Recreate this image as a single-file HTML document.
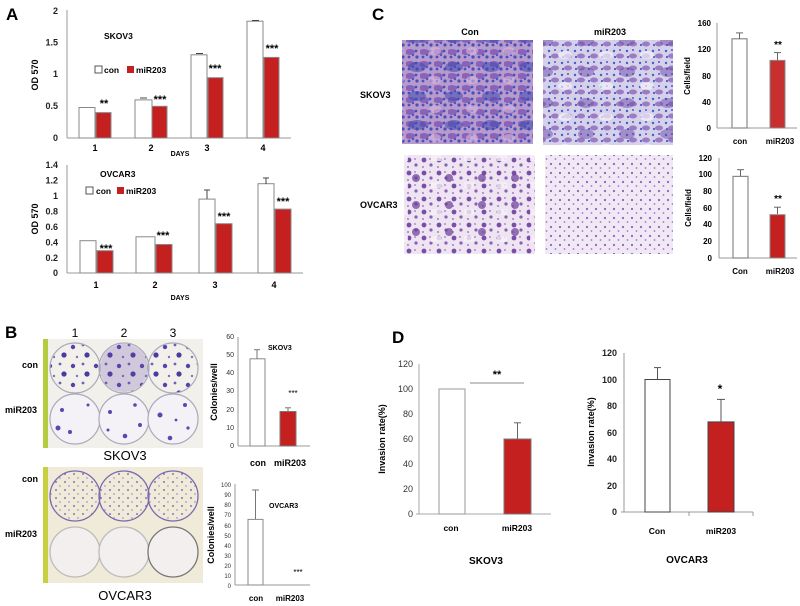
<!DOCTYPE html>
<html><head><meta charset="utf-8"><style>
html,body{margin:0;padding:0;background:#fff;}
svg{display:block;font-family:"Liberation Sans",Arial,sans-serif;}
.b{font-weight:bold;}
</style></head><body>
<svg width="800" height="606" viewBox="0 0 800 606" xmlns="http://www.w3.org/2000/svg">
<defs>
<pattern id="colA" width="23" height="19" patternUnits="userSpaceOnUse">
<circle cx="4" cy="5" r="2.2" fill="#5a3fa8"/><circle cx="14" cy="3" r="1.4" fill="#7a5ab8"/><circle cx="18" cy="13" r="2.6" fill="#4b3aa0"/><circle cx="8" cy="15" r="1.2" fill="#8a6ac0"/>
</pattern>
<pattern id="colB" width="9" height="8" patternUnits="userSpaceOnUse">
<circle cx="2" cy="2" r="0.9" fill="#6a4fb0"/><circle cx="6" cy="6" r="0.7" fill="#8a70c4"/>
</pattern>
<pattern id="skA" width="14" height="12" patternUnits="userSpaceOnUse">
<rect width="14" height="12" fill="#b89acc"/>
<ellipse cx="4" cy="4" rx="5" ry="3" fill="#8a63b8"/>
<circle cx="10" cy="3" r="1.4" fill="#3f55c0"/><circle cx="3" cy="9" r="1.4" fill="#3f55c0"/><circle cx="11" cy="9" r="1.6" fill="#4a4fb8"/><circle cx="7" cy="7" r="1.2" fill="#3f5ad0"/>
</pattern>
<pattern id="skA2" width="37" height="29" patternUnits="userSpaceOnUse">
<ellipse cx="10" cy="9" rx="9" ry="5" fill="#3f48b0" opacity="0.55"/><ellipse cx="28" cy="22" rx="6" ry="4" fill="#d8b8dc" opacity="0.6"/>
</pattern>
<pattern id="skB" width="13" height="12" patternUnits="userSpaceOnUse">
<rect width="13" height="12" fill="#d6d0ea"/>
<ellipse cx="9" cy="8" rx="4" ry="2.5" fill="#9a7cc4"/>
<circle cx="3" cy="3" r="1.2" fill="#3f60c8"/><circle cx="9" cy="2" r="1" fill="#3f60c8"/><circle cx="4" cy="9" r="1.1" fill="#3f60c8"/>
</pattern>
<pattern id="skB2" width="41" height="31" patternUnits="userSpaceOnUse">
<ellipse cx="12" cy="10" rx="8" ry="5" fill="#6a4aa8" opacity="0.5"/><ellipse cx="32" cy="24" rx="7" ry="4" fill="#f4f2fa" opacity="0.7"/>
</pattern>
<pattern id="ovA" width="15" height="13" patternUnits="userSpaceOnUse">
<rect width="15" height="13" fill="#eee4f2"/>
<circle cx="4" cy="4" r="2.4" fill="#7a4ea8"/><circle cx="11" cy="9" r="1.6" fill="#8a60b4"/><circle cx="10" cy="3" r="0.9" fill="#9a70c0"/><circle cx="3" cy="11" r="0.9" fill="#8a60b4"/>
</pattern>
<pattern id="ovA2" width="33" height="27" patternUnits="userSpaceOnUse">
<circle cx="20" cy="16" r="4" fill="#6a3e98" opacity="0.7"/><rect x="2" y="20" width="10" height="6" fill="#f6f0f8" opacity="0.8"/>
</pattern>
<pattern id="ovB" width="9" height="9" patternUnits="userSpaceOnUse">
<rect width="9" height="9" fill="#f0e8f4"/>
<circle cx="2" cy="2" r="1.1" fill="#8a64b8"/><circle cx="6.5" cy="6" r="0.9" fill="#9a78c4"/>
</pattern>
</defs>

<!-- Panel A top -->
<text x="6" y="20" font-size="17" class="b">A</text>
<g font-size="9" class="b" fill="#222" text-anchor="end">
<text x="58" y="14">2</text><text x="58" y="45.5">1.5</text><text x="58" y="77">1</text><text x="58" y="109">0.5</text><text x="58" y="141">0</text>
</g>
<line x1="67" y1="10" x2="67" y2="138" stroke="#999"/>
<line x1="67" y1="138" x2="291" y2="138" stroke="#999"/>
<g stroke="#888" stroke-width="1">
<rect x="79" y="107.5" width="16" height="30.5" fill="#fff"/><rect x="96" y="112.6" width="15" height="25.4" fill="#c42020"/>
<rect x="135" y="99.9" width="17" height="38.1" fill="#fff"/><rect x="152" y="106.3" width="15" height="31.7" fill="#c42020"/>
<rect x="191" y="54.8" width="16" height="83.2" fill="#fff"/><rect x="208" y="77.7" width="15" height="60.3" fill="#c42020"/>
<rect x="247" y="21.2" width="16" height="116.8" fill="#fff"/><rect x="264" y="57.4" width="15" height="80.6" fill="#c42020"/>
</g>
<g stroke="#444"><line x1="140" y1="98" x2="147" y2="98"/><line x1="196" y1="53.5" x2="203" y2="53.5"/><line x1="252" y1="20.5" x2="259" y2="20.5"/></g>
<g font-size="11" class="b" text-anchor="middle">
<text x="104" y="107">**</text><text x="160" y="103">***</text><text x="215" y="72">***</text><text x="272" y="52">***</text>
</g>
<g font-size="9" class="b" text-anchor="middle">
<text x="95" y="151">1</text><text x="151" y="151">2</text><text x="207" y="151">3</text><text x="263" y="151">4</text>
<text x="180" y="156" font-size="7">DAYS</text>
</g>
<text x="38" y="75" font-size="9" class="b" transform="rotate(-90 38 75)" text-anchor="middle">OD 570</text>
<text x="104" y="39" font-size="8.5" class="b">SKOV3</text>
<rect x="95" y="66" width="7" height="7" fill="#fff" stroke="#555"/><text x="104" y="73" font-size="8.5" class="b">con</text>
<rect x="127" y="66" width="7" height="7" fill="#c42020"/><text x="136" y="73" font-size="8.5" class="b">miR203</text>

<!-- Panel A bottom -->
<g font-size="9" class="b" fill="#222" text-anchor="end">
<text x="58" y="168">1.4</text><text x="58" y="183.5">1.2</text><text x="58" y="199">1</text><text x="58" y="214.5">0.8</text><text x="58" y="230">0.6</text><text x="58" y="245.5">0.4</text><text x="58" y="261">0.2</text><text x="58" y="276">0</text>
</g>
<line x1="67" y1="165" x2="67" y2="273" stroke="#999"/>
<line x1="67" y1="273" x2="303" y2="273" stroke="#999"/>
<g stroke="#888">
<rect x="80" y="240.7" width="16" height="32.3" fill="#fff"/><rect x="97" y="250.7" width="16" height="22.3" fill="#c42020"/>
<rect x="136" y="236.8" width="19" height="36.2" fill="#fff"/><rect x="156" y="244.5" width="16" height="28.5" fill="#c42020"/>
<rect x="199" y="199.1" width="16" height="73.9" fill="#fff"/><rect x="216" y="223.7" width="16" height="49.3" fill="#c42020"/>
<rect x="258" y="183.7" width="16" height="89.3" fill="#fff"/><rect x="275" y="209.1" width="16" height="63.9" fill="#c42020"/>
</g>
<g stroke="#444"><line x1="207" y1="190" x2="207" y2="199"/><line x1="204" y1="190" x2="210" y2="190"/><line x1="266" y1="178" x2="266" y2="184"/><line x1="263" y1="178" x2="269" y2="178"/></g>
<g font-size="11" class="b" text-anchor="middle">
<text x="106" y="252">***</text><text x="163" y="239">***</text><text x="224" y="220">***</text><text x="283" y="205">***</text>
</g>
<g font-size="9" class="b" text-anchor="middle">
<text x="96" y="288">1</text><text x="155" y="288">2</text><text x="215" y="288">3</text><text x="274" y="288">4</text>
<text x="180" y="300" font-size="7">DAYS</text>
</g>
<text x="38" y="219" font-size="9" class="b" transform="rotate(-90 38 219)" text-anchor="middle">OD 570</text>
<text x="100" y="177" font-size="8.5" class="b">OVCAR3</text>
<rect x="86" y="187" width="7" height="7" fill="#fff" stroke="#555"/><text x="96" y="194" font-size="8.5" class="b">con</text>
<rect x="117" y="187" width="7" height="7" fill="#c42020"/><text x="126" y="194" font-size="8.5" class="b">miR203</text>

<!-- Panel B -->
<text x="5" y="338" font-size="17" class="b">B</text>
<g font-size="12" text-anchor="middle"><text x="75" y="337">1</text><text x="124" y="337">2</text><text x="173" y="337">3</text></g>
<text x="22" y="368" font-size="9" class="b">con</text>
<text x="5" y="413" font-size="9" class="b">miR203</text>
<text x="22" y="482" font-size="9" class="b">con</text>
<text x="5" y="537" font-size="9" class="b">miR203</text>
<rect x="43" y="339" width="160" height="109" fill="#f2f0ea"/>
<rect x="43" y="339" width="5" height="109" fill="#b6cc40"/>
<g stroke="#aab" stroke-width="1.2">
<circle cx="75" cy="368" r="25" fill="url(#colA)"/><circle cx="124" cy="368" r="25" fill="url(#colA)"/><circle cx="173" cy="368" r="25" fill="url(#colA)"/>
<circle cx="75" cy="419" r="25" fill="#f4f2f6"/><circle cx="124" cy="419" r="25" fill="#f4f2f6"/><circle cx="173" cy="419" r="25" fill="#f4f2f6"/>
</g>
<circle cx="124" cy="368" r="24" fill="#6a50b0" opacity="0.25"/>
<g fill="#5a48b0">
<circle cx="62" cy="410" r="2"/><circle cx="58" cy="428" r="2.5"/><circle cx="88" cy="405" r="1.5"/><circle cx="70" cy="432" r="2"/>
<circle cx="110" cy="412" r="2"/><circle cx="135" cy="405" r="1.8"/><circle cx="125" cy="436" r="2.3"/><circle cx="140" cy="425" r="2"/><circle cx="108" cy="430" r="1.5"/>
<circle cx="160" cy="415" r="2.5"/><circle cx="185" cy="405" r="2"/><circle cx="170" cy="438" r="2.3"/><circle cx="188" cy="428" r="1.6"/><circle cx="176" cy="420" r="1.4"/>
</g>
<text x="125" y="460" font-size="13" text-anchor="middle">SKOV3</text>
<rect x="43" y="467" width="160" height="116" fill="#efebd8"/>
<rect x="43" y="467" width="5" height="116" fill="#c8d040"/>
<g stroke="#7a6ab0" stroke-width="1.3">
<circle cx="75" cy="496" r="25" fill="url(#colB)"/><circle cx="124" cy="496" r="25" fill="url(#colB)"/><circle cx="173" cy="496" r="25" fill="url(#colB)"/>
</g>
<g stroke="#bbb" stroke-width="1.3" fill="#f2efee">
<circle cx="75" cy="552" r="25"/><circle cx="124" cy="552" r="25"/><circle cx="173" cy="552" r="25" stroke="#777"/>
</g>
<text x="125" y="600" font-size="13" text-anchor="middle">OVCAR3</text>

<!-- B chart 1 -->
<g font-size="7" fill="#333" text-anchor="end">
<text x="234" y="339">60</text><text x="234" y="357">50</text><text x="234" y="375">40</text><text x="234" y="393">30</text><text x="234" y="412">20</text><text x="234" y="430">10</text><text x="234" y="448">0</text>
</g>
<line x1="238" y1="337" x2="238" y2="446" stroke="#999"/><line x1="238" y1="446" x2="310" y2="446" stroke="#999"/>
<rect x="250" y="358.8" width="15" height="87.2" fill="#fff" stroke="#888"/>
<rect x="280" y="411.5" width="16" height="34.5" fill="#c42020" stroke="#777"/>
<g stroke="#777"><line x1="257" y1="349.7" x2="257" y2="359"/><line x1="254" y1="349.7" x2="260" y2="349.7"/><line x1="288" y1="407.8" x2="288" y2="411"/><line x1="285" y1="407.8" x2="291" y2="407.8"/></g>
<text x="293" y="396" font-size="8" text-anchor="middle">***</text>
<text x="268" y="350" font-size="7" class="b">SKOV3</text>
<text x="217" y="392" font-size="9" class="b" transform="rotate(-90 217 392)" text-anchor="middle">Colonies/well</text>
<text x="258" y="466" font-size="9" class="b" text-anchor="middle">con</text><text x="290" y="466" font-size="9" class="b" text-anchor="middle">miR203</text>

<!-- B chart 2 -->
<g font-size="6" fill="#333" text-anchor="end">
<text x="231" y="487">100</text><text x="231" y="497">90</text><text x="231" y="507">80</text><text x="231" y="517">70</text><text x="231" y="528">60</text><text x="231" y="538">50</text><text x="231" y="548">40</text><text x="231" y="558">30</text><text x="231" y="568">20</text><text x="231" y="578">10</text><text x="231" y="588">0</text>
</g>
<line x1="235" y1="484" x2="235" y2="585" stroke="#999"/><line x1="235" y1="585" x2="310" y2="585" stroke="#999"/>
<rect x="248" y="519.4" width="15" height="65.6" fill="#fff" stroke="#888"/>
<g stroke="#777"><line x1="255.5" y1="490" x2="255.5" y2="519"/><line x1="252" y1="490" x2="259" y2="490"/></g>
<text x="298" y="575" font-size="8" text-anchor="middle">***</text>
<text x="269" y="508" font-size="7" class="b">OVCAR3</text>
<text x="214" y="535" font-size="9" class="b" transform="rotate(-90 214 535)" text-anchor="middle">Colonies/well</text>
<text x="256" y="601" font-size="8" class="b" text-anchor="middle">con</text><text x="290" y="601" font-size="8" class="b" text-anchor="middle">miR203</text>

<!-- Panel C -->
<text x="372" y="20" font-size="17" class="b">C</text>
<text x="470" y="35" font-size="9" class="b" text-anchor="middle">Con</text>
<text x="610" y="35" font-size="9" class="b" text-anchor="middle">miR203</text>
<text x="360" y="98" font-size="9" class="b">SKOV3</text>
<text x="360" y="208" font-size="9" class="b">OVCAR3</text>
<rect x="402" y="40" width="131" height="104" fill="url(#skA)"/>
<rect x="402" y="40" width="131" height="104" fill="url(#skA2)"/>
<rect x="543" y="40" width="130" height="105" fill="url(#skB)"/>
<rect x="543" y="40" width="130" height="105" fill="url(#skB2)"/>
<rect x="404" y="155" width="131" height="99" fill="url(#ovA)"/>
<rect x="404" y="155" width="131" height="99" fill="url(#ovA2)"/>
<rect x="545" y="155" width="128" height="99" fill="url(#ovB)"/>

<!-- C chart 1 -->
<g font-size="8" class="b" text-anchor="end">
<text x="711" y="26">160</text><text x="711" y="52">120</text><text x="711" y="79">80</text><text x="711" y="105">40</text><text x="711" y="131">0</text>
</g>
<line x1="717" y1="23" x2="717" y2="128" stroke="#999"/><line x1="717" y1="128" x2="797" y2="128" stroke="#999"/>
<rect x="732" y="38.8" width="15" height="89.2" fill="#fff" stroke="#888" stroke-width="1.2"/>
<rect x="770" y="60.4" width="15" height="67.6" fill="#c83030" stroke="#888"/>
<g stroke="#666"><line x1="739.5" y1="32.9" x2="739.5" y2="39"/><line x1="736" y1="32.9" x2="743" y2="32.9"/><line x1="777.5" y1="52.6" x2="777.5" y2="60"/><line x1="774" y1="52.6" x2="781" y2="52.6"/></g>
<text x="778" y="48" font-size="10" class="b" text-anchor="middle">**</text>
<text x="690" y="76" font-size="8" class="b" transform="rotate(-90 690 76)" text-anchor="middle">Cells/field</text>
<text x="740" y="144" font-size="8" class="b" text-anchor="middle">con</text><text x="780" y="144" font-size="8" class="b" text-anchor="middle">miR203</text>

<!-- C chart 2 -->
<g font-size="8" class="b" text-anchor="end">
<text x="712" y="161">120</text><text x="712" y="177">100</text><text x="712" y="194">80</text><text x="712" y="211">60</text><text x="712" y="227">40</text><text x="712" y="244">20</text><text x="712" y="261">0</text>
</g>
<line x1="719" y1="158" x2="719" y2="258" stroke="#999"/><line x1="719" y1="258" x2="797" y2="258" stroke="#999"/>
<rect x="733" y="176.4" width="15" height="81.6" fill="#fff" stroke="#888" stroke-width="1.2"/>
<rect x="770" y="214.7" width="15" height="43.3" fill="#c42020" stroke="#888"/>
<g stroke="#666"><line x1="740.5" y1="169.7" x2="740.5" y2="176"/><line x1="737" y1="169.7" x2="744" y2="169.7"/><line x1="777.5" y1="207.2" x2="777.5" y2="214"/><line x1="774" y1="207.2" x2="781" y2="207.2"/></g>
<text x="778" y="202" font-size="10" class="b" text-anchor="middle">**</text>
<text x="691" y="208" font-size="8" class="b" transform="rotate(-90 691 208)" text-anchor="middle">Cells/field</text>
<text x="740" y="274" font-size="8" class="b" text-anchor="middle">Con</text><text x="780" y="274" font-size="8" class="b" text-anchor="middle">miR203</text>

<!-- Panel D -->
<text x="392" y="343" font-size="17" class="b">D</text>
<g font-size="9" fill="#333" text-anchor="end">
<text x="413" y="367">120</text><text x="413" y="392">100</text><text x="413" y="417">80</text><text x="413" y="442">60</text><text x="413" y="467">40</text><text x="413" y="492">20</text><text x="413" y="517">0</text>
</g>
<line x1="419" y1="364" x2="419" y2="514" stroke="#aaa"/><line x1="416" y1="514" x2="551" y2="514" stroke="#aaa"/>
<rect x="439" y="389" width="26" height="125" fill="#fff" stroke="#999"/>
<rect x="504" y="439" width="27" height="75" fill="#c42020" stroke="#777"/>
<g stroke="#666"><line x1="517.5" y1="422.8" x2="517.5" y2="439"/><line x1="514" y1="422.8" x2="521" y2="422.8"/></g>
<line x1="470" y1="383" x2="524" y2="383" stroke="#888"/>
<text x="497" y="378" font-size="11" class="b" text-anchor="middle">**</text>
<text x="385" y="439" font-size="9" class="b" transform="rotate(-90 385 439)" text-anchor="middle">Invasion rate(%)</text>
<text x="451" y="531" font-size="8.5" class="b" text-anchor="middle">con</text><text x="517" y="531" font-size="8.5" class="b" text-anchor="middle">miR203</text>
<text x="486" y="564" font-size="10" class="b" text-anchor="middle">SKOV3</text>

<g font-size="9" class="b" fill="#222" text-anchor="end">
<text x="617" y="356">120</text><text x="617" y="383">100</text><text x="617" y="409">80</text><text x="617" y="436">60</text><text x="617" y="462">40</text><text x="617" y="489">20</text><text x="617" y="515">0</text>
</g>
<line x1="624" y1="353" x2="624" y2="512" stroke="#999"/><line x1="621" y1="512" x2="753" y2="512" stroke="#999"/>
<line x1="689" y1="512" x2="689" y2="516" stroke="#999"/><line x1="753" y1="512" x2="753" y2="516" stroke="#999"/>
<rect x="645" y="379.5" width="25" height="132.5" fill="#fff" stroke="#444"/>
<rect x="708" y="421.9" width="26" height="90.1" fill="#c42020" stroke="#444"/>
<g stroke="#555"><line x1="657.5" y1="367.6" x2="657.5" y2="379"/><line x1="654" y1="367.6" x2="661" y2="367.6"/><line x1="721" y1="399.4" x2="721" y2="422"/><line x1="717" y1="399.4" x2="725" y2="399.4"/></g>
<text x="720" y="393" font-size="12" class="b" text-anchor="middle">*</text>
<text x="594" y="432" font-size="9" class="b" transform="rotate(-90 594 432)" text-anchor="middle">Invasion rate(%)</text>
<text x="657" y="534" font-size="8.5" class="b" text-anchor="middle">Con</text><text x="721" y="534" font-size="8.5" class="b" text-anchor="middle">miR203</text>
<text x="687" y="563" font-size="10" class="b" text-anchor="middle">OVCAR3</text>
</svg>
</body></html>
